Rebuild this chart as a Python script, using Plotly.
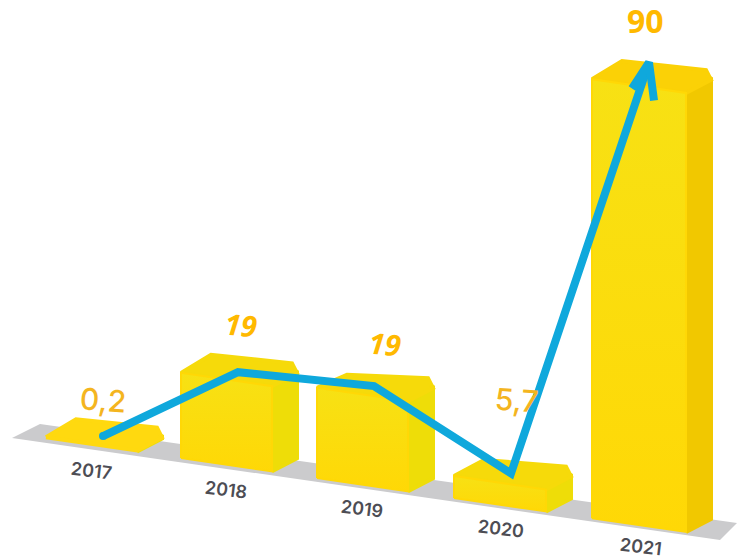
import plotly.graph_objects as go

# --- data ---
years = ["2017", "2018", "2019", "2020", "2021"]
values = [0.2, 19, 19, 5.7, 90]
value_labels = ["0,2", "19", "19", "5,7", "90"]

# --- layout constants (pixels of a 737x558 page) ---
W, H = 737, 558
PX_PER_UNIT = 4.9
LEFTS = [45, 180, 316, 453, 591]
FRONT_W = [93, 93, 93, 94, 96]
SIDE_W = 25
LINE_LIFT = [11.5, 3, 9, 7, 25]
TOP_TRIM = [0, 8, 3, 6, 2]
TOP_DEPTH = [18, 18, 13, 16, 18]
BLUE = "#0FA8DC"


def ground(x):
    return 440 + (x - 45) * 0.1465


def vy(px):
    """page pixel height -> value units on the y axis"""
    return (H - px) / PX_PER_UNIT


fig = go.Figure()


def poly(xs, ys, color=None, grad=None, lw=4):
    kw = dict(fillcolor=color) if grad is None else dict(
        fillgradient=dict(type="vertical", colorscale=grad))
    fig.add_trace(go.Scatter(
        x=xs + xs[:1], y=ys + ys[:1], mode="lines", fill="toself",
        line=dict(color=color or grad[0][1], width=lw),
        hoverinfo="skip", showlegend=False, **kw))


# floor
poly([12, 40, 737, 720], [vy(438), vy(424), vy(523), vy(540)], color="#CBCBCD", lw=0)

# bars
for i, val in enumerate(values):
    v = val - TOP_TRIM[i] / PX_PER_UNIT
    xl = LEFTS[i] + 1
    xr = xl + FRONT_W[i] - 2
    gl, gr = vy(ground(xl)) + 0.4, vy(ground(xr)) + 0.4
    dep_side = -13 / PX_PER_UNIT
    side_col = "#F1C800" if val > 50 else "#EEDD08"
    top_col = "#FBD106" if val > 50 else "#F6DA0A"
    # side face
    poly([xr, xr + SIDE_W, xr + SIDE_W, xr],
         [gr, gr - dep_side, gr - dep_side + v + 0.5, gr + v],
         color=side_col)
    # top face
    tl, tr = gl + v, gr + v
    poly([xl, xl + 30, xr + SIDE_W - 5, xr + SIDE_W, xr],
         [tl, tl + TOP_DEPTH[i] / PX_PER_UNIT, tr - dep_side + 5 / PX_PER_UNIT + 1,
          tr - dep_side, tr],
         color=top_col if val > 1 else "#FFD90F")
    # front face
    if val > 1:
        poly([xl, xr, xr, xl], [gl, gr, tr, tl],
             grad=[[0, "#FFD806"], [1, "#F7E114"]], lw=2)

# connecting line, ending on the arrow tip
line_x = [LEFTS[i] + 58 for i in range(len(values))]
line_y = [vy(ground(line_x[i]) - LINE_LIFT[i]) + values[i] for i in range(len(values))]
fig.add_trace(go.Scatter(x=line_x, y=line_y, mode="lines",
                         line=dict(color=BLUE, width=8),
                         hoverinfo="skip", showlegend=False))
fig.add_trace(go.Scatter(x=line_x[:1], y=line_y[:1], mode="markers",
                         marker=dict(color=BLUE, size=8),
                         hoverinfo="skip", showlegend=False))
# arrow head
tx, ty = line_x[-1], line_y[-1]
fig.add_trace(go.Scatter(
    x=[tx - 17, tx, tx + 5],
    y=[ty - 26 / PX_PER_UNIT, ty, ty - 38 / PX_PER_UNIT],
    mode="lines", line=dict(color=BLUE, width=8),
    hoverinfo="skip", showlegend=False))

# category labels
CAT_X = [91, 226, 362, 501, 641]
CAT_Y = [470, 489, 508, 528, 546]
for t, x, y in zip(years, CAT_X, CAT_Y):
    fig.add_annotation(x=x, y=vy(y), text=t, showarrow=False, textangle=7,
                       font=dict(family="Inter", size=18, color="#4D4D54", weight=600))

# value labels
LAB_X = [103, 241, 385, 516, 645]
LAB_Y = [400, 324, 343, 400, 20]
LAB_FONT = [
    dict(family="Inter", size=30, color="#F4B51F", weight=500),
    dict(family="Open Sans", size=29, color="#FFB900", weight=700, style="italic"),
    dict(family="Open Sans", size=29, color="#FFB900", weight=700, style="italic"),
    dict(family="Inter", size=30, color="#F4B51F", weight=500),
    dict(family="Open Sans", size=32, color="#FFB900", weight=700),
]
LAB_ANGLE = [4, 5, 5, 4, 0]
for t, x, y, f, a in zip(value_labels, LAB_X, LAB_Y, LAB_FONT, LAB_ANGLE):
    fig.add_annotation(x=x, y=vy(y), text=t, showarrow=False, textangle=a, font=f)

fig.update_layout(
    width=W, height=H, margin=dict(l=0, r=0, t=0, b=0),
    paper_bgcolor="white", plot_bgcolor="white", showlegend=False,
    xaxis=dict(visible=False, range=[0, W], fixedrange=True),
    yaxis=dict(visible=False, range=[0, H / PX_PER_UNIT], fixedrange=True),
)
fig.write_html("out.html", config={"displayModeBar": False},
               post_script="document.body.style.margin='0';document.body.style.overflow='hidden';")
